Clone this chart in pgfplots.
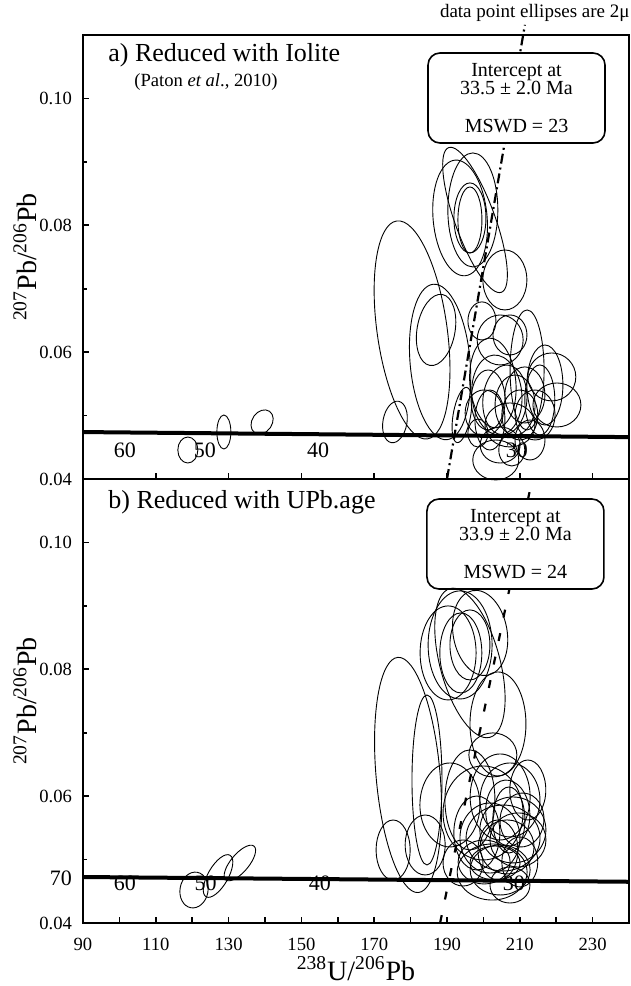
\documentclass[border=0pt]{standalone}
\usepackage{fontspec}
\setmainfont{Liberation Serif}
\usepackage{pgfplots}
\pgfplotsset{compat=1.18}
\usepackage{pgfplotstable}

\pgfdeclareplotmark{ell}{%
  \pgfmathsetmacro\eax{\erx*1.82*cos(\eang)}%
  \pgfmathsetmacro\eay{\erx*1.82*sin(\eang)}%
  \pgfmathsetmacro\ebx{-\ery*3.17143*sin(\eang)}%
  \pgfmathsetmacro\eby{\ery*3.17143*cos(\eang)}%
  \pgfpathellipse{\pgfpointorigin}{\pgfpoint{\eax pt}{\eay pt}}{\pgfpoint{\ebx pt}{\eby pt}}%
  \pgfusepathqstroke}

% panel a: centre x, centre y, semi-axis in x units, semi-axis in y units (x1000), tilt (deg)
\pgfplotstableread{
x y rx ry a
118.8 0.04457 2.75 2.05 0
128.7 0.04741 1.92 2.68 0
139.2 0.04899 2.75 2.05 -35
175.7 0.04899 3.30 3.31 -10
180.4 0.0635 9.62 17.35 8
188.1 0.05845 8.24 12.3 5
187.0 0.0635 5.22 5.68 -10
193.6 0.08116 7.42 9.15 5
197.1 0.08242 6.87 8.99 0
196.3 0.08116 4.40 5.52 0
196.3 0.08084 3.30 5.2 0
197.7 0.08084 5.49 12.14 20
205.9 0.07138 6.04 4.73 0
199.6 0.06492 3.85 3.0 0
212.0 0.05719 4.67 9.46 0
207.3 0.06271 4.67 3.15 0
218.8 0.05609 6.59 3.78 0
220.2 0.05167 6.59 3.47 0
204.6 0.06192 6.32 3.94 0
202.6 0.05514 6.32 7.1 5
200.2 0.05041 5.22 3.63 0
203.7 0.05325 6.87 6.31 5
205.9 0.05246 6.04 5.52 -5
208.7 0.05167 5.49 4.73 0
210.0 0.05009 4.94 3.94 0
201.8 0.0493 4.12 4.73 0
214.2 0.05009 5.49 3.94 0
215.5 0.05246 4.12 5.52 0
207.3 0.04852 6.87 3.47 0
194.1 0.05009 2.4 4.42 -10
204.6 0.04536 5.49 2.84 0
212.8 0.04615 4.12 3.15 0
203.4 0.0430 6.32 3.15 0
207.8 0.04457 3.57 2.52 0
198.5 0.04725 2.75 2.21 0
211.4 0.05325 5.49 4.42 0
216.9 0.05482 4.94 6.31 0
201.3 0.05246 4.67 4.73 0
}\dataA

% panel b
\pgfplotstableread{
x y rx ry a
120.5 0.0452 3.85 2.84 -10
127.1 0.04741 2.75 3.78 -30
133.1 0.04946 2.47 3.47 -40
175.2 0.05151 4.67 4.73 0
179.3 0.06334 8.79 18.61 5
184.5 0.06255 4.12 13.4 0
184.0 0.0523 5.49 4.73 0
190.8 0.05861 8.24 6.62 0
190.3 0.08258 7.69 7.41 0
193.6 0.08384 8.79 8.52 0
193.8 0.08258 5.77 6.31 0
196.3 0.08384 5.49 5.52 0
196.3 0.0810 8.24 12.14 15
199.1 0.08573 7.42 6.78 10
204.0 0.07138 7.69 8.2 0
202.6 0.0665 6.59 3.47 0
204.6 0.05987 8.24 6.78 0
207.3 0.0594 8.24 5.83 0
206.7 0.05735 6.04 5.2 5
207.0 0.05624 4.40 5.2 0
198.2 0.05419 6.32 5.83 0
201.8 0.0534 8.24 5.52 0
205.4 0.0534 10.16 5.2 0
208.1 0.05467 9.07 5.2 0
209.5 0.05309 7.69 4.26 0
210.6 0.05624 6.04 4.26 -5
194.4 0.04946 5.49 3.63 0
200.2 0.04962 7.14 3.47 0
203.2 0.04946 6.87 2.68 0
206.5 0.05199 7.42 4.26 0
207.3 0.04599 5.49 2.84 0
204.0 0.05151 5.49 4.73 0
210.0 0.04962 4.94 3.94 0
196.3 0.0594 6.87 7.89 0
212.2 0.06097 4.94 4.73 0
204.6 0.04836 8.24 3.94 0
199.9 0.05735 10.99 7.41 0
202.4 0.04804 9.6 4.42 0
}\dataB

\tikzset{
  ibox/.style={draw=black, line width=0.8pt, rounded corners=6pt, fill=white,
    minimum width=88.5pt, minimum height=45pt, inner sep=0pt},
  itext/.style={anchor=base, inner sep=0pt, font=\fontsize{10}{12}\selectfont},
}

\pgfplotsset{
  panel/.style={
    scale only axis, width=273pt, height=222pt,
    xmin=90, xmax=240, ymin=0.04, ymax=0.11,
    clip=false,
    axis line style={line width=1pt},
    tick style={line width=0.8pt, black},
    tick align=inside,
    xtick pos=bottom, ytick pos=left,
    ytick={0.04,0.06,0.08,0.10},
    yticklabels={0.04,0.06,0.08,0.10},
    minor ytick={0.05,0.07,0.09},
    major tick length=3pt, minor tick length=2pt,
    ticklabel style={font=\fontsize{9.3}{11}\selectfont},
    yticklabel style={xshift=-2pt},
    xticklabel style={yshift=-4pt},
    ylabel={\fontsize{14}{16}\selectfont\textsuperscript{207}Pb/\textsuperscript{206}Pb},
    ylabel style={at={(rel axis cs:-0.106,0.5)}, anchor=center},
  },
  ells/.style={scatter, only marks, mark=ell,
    scatter/use mapped color={draw=black, fill=none},
    mark options={line width=0.45pt, solid},
    visualization depends on={\thisrow{rx} \as \erx},
    visualization depends on={\thisrow{ry} \as \ery},
    visualization depends on={\thisrow{a} \as \eang}},
  agelab/.style={only marks, mark size=0pt, mark options={draw=none, fill=none},
    nodes near coords, point meta=explicit symbolic,
    every node near coord/.append style={anchor=center, inner sep=0pt,
      font=\fontsize{11}{13}\selectfont}},
}

\begin{document}
\begin{tikzpicture}
\path[use as bounding box] (-41.5pt,-31.5pt) rectangle (274pt,461.5pt);

% ---------------- panel b (bottom)
\begin{axis}[panel, at={(0,0)}, anchor=south west,
  xtick={90,100,...,240},
  xticklabels={90,,110,,130,,150,,170,,190,,210,,230,},
  major tick length=3pt,
  extra y ticks={0.047}, extra y tick labels={70},
  extra y tick style={tick label style={font=\fontsize{11}{13}\selectfont}},
  xlabel={\fontsize{14}{16}\selectfont\textsuperscript{238}U/\textsuperscript{206}Pb},
  xlabel style={at={(rel axis cs:0.5,0)}, anchor=base, inner sep=0pt, yshift=-28.5pt},
]
\addplot[ells] table {\dataB};
\addplot[agelab] table[meta=lab] {
x y lab
101.5 0.04631 60
123.7 0.04631 50
155.1 0.04631 40
208.4 0.04631 30
};
\addplot[black, line width=2pt] coordinates {(90,0.04725) (240,0.0465)};
\addplot[black, line width=1.1pt, dash pattern=on 4pt off 8pt] coordinates {(188.1,0.04) (212.8,0.1083)};
\node[anchor=west, inner sep=0pt, font=\fontsize{13}{15}\selectfont]
  at (rel axis cs:0.0458,1) [yshift=-11.5pt] {b) Reduced with UPb.age};
\node[ibox] (B) at (rel axis cs:0.792,1) [yshift=-32.5pt] {};
\node[itext] at ([yshift=-12pt]B.north) {Intercept at};
\node[itext] at ([yshift=-21pt]B.north) {33.9 ± 2.0 Ma};
\node[itext] at ([yshift=-40pt]B.north) {MSWD = 24};
\end{axis}

% ---------------- panel a (top)
\begin{axis}[panel, at={(0,222pt)}, anchor=south west,
  xtick={110,130,...,230}, xticklabels={},
  major tick length=3pt,
]
\addplot[ells] table {\dataA};
\addplot[agelab] table[meta=lab] {
x y lab
101.5 0.04457 60
123.5 0.04457 50
154.6 0.04457 40
209.2 0.04457 30
};
\addplot[black, line width=2pt] coordinates {(90,0.0474) (240,0.0466)};
\addplot[black, line width=1.1pt, dash pattern=on 5pt off 2pt on 1pt off 2pt] coordinates {(190,0.04) (211.4,0.1116)};
\node[anchor=west, inner sep=0pt, font=\fontsize{13}{15}\selectfont]
  at (rel axis cs:0.0458,1) [yshift=-10pt] {a) Reduced with Iolite};
\node[anchor=west, inner sep=0pt, font=\fontsize{9.3}{11}\selectfont]
  at (rel axis cs:0.0934,1) [yshift=-23.5pt] {(Paton \textit{et al}., 2010)};
\node[ibox] (A) at (rel axis cs:0.794,1) [yshift=-31.5pt] {};
\node[itext] at ([yshift=-12pt]A.north) {Intercept at};
\node[itext] at ([yshift=-21pt]A.north) {33.5 ± 2.0 Ma};
\node[itext] at ([yshift=-40pt]A.north) {MSWD = 23};
\node[anchor=east, inner sep=0pt, font=\fontsize{9.5}{11}\selectfont]
  at (rel axis cs:1,1) [xshift=0.5pt, yshift=11pt] {data point ellipses are 2μ};
\end{axis}
\end{tikzpicture}
\end{document}
